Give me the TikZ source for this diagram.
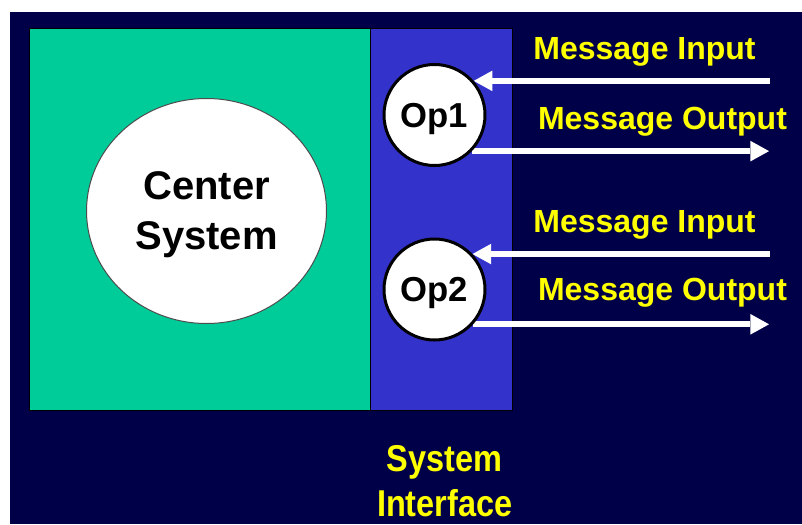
\documentclass[tikz,border=0pt]{standalone}
\usepackage{fontspec}
\setmainfont{Liberation Sans}
\newfontfamily\narrowfont[FakeStretch=0.87]{Liberation Sans}
\usetikzlibrary{shapes.geometric,arrows.meta}
\definecolor{navy}{HTML}{000048}
\definecolor{teal}{HTML}{00CC99}
\definecolor{ifblue}{HTML}{3333CC}
\definecolor{msgyellow}{HTML}{FFFF00}
\pgfdeclarelayer{bg}
\pgfdeclarelayer{mid}
\pgfsetlayers{bg,mid,main}
\tikzset{
  corebox/.style={fill=teal,draw=black,line width=0.75pt},
  ifbox/.style={fill=ifblue,draw=black,line width=0.75pt},
  coresys/.style={ellipse,draw=black!70,line width=0.75pt,fill=white,inner sep=0pt,
    minimum width=180pt,minimum height=168.75pt,align=center,text depth=0pt,
    font=\fontsize{30pt}{37.5pt}\selectfont\bfseries},
  opnode/.style={circle,draw=black,line width=2.25pt,fill=white,inner sep=0pt,
    minimum size=75.75pt,text depth=0pt,font=\fontsize{26pt}{30pt}\selectfont\bfseries},
  msglabel/.style={text=msgyellow,anchor=base,inner sep=0pt,
    font=\fontsize{24pt}{28pt}\selectfont\bfseries},
  iflabel/.style={text=msgyellow,inner sep=0pt,align=center,
    font=\narrowfont\fontsize{28pt}{34pt}\selectfont\bfseries},
  msg/.style={draw=white,line width=4.5pt,
    -{Triangle[length=14pt,width=15.5pt,line width=0pt]}},
}
\begin{document}
\begin{tikzpicture}[x=0.75pt,y=-0.75pt]
\useasboundingbox (0,0) rectangle (802,524);
\begin{pgfonlayer}{bg}
  \fill[white] (0,0) rectangle (802,524);
  \fill[navy] (10,12) rectangle (802,524);
  \draw[corebox] (29,29) rectangle (370,410);
  \draw[ifbox] (370,29) rectangle (512,410);
\end{pgfonlayer}

\node[coresys] (center) at (206.5,211) {Center\\System};
\node[opnode] (op1) at (434.5,115) {Op1};
\node[opnode] (op2) at (434.5,289.5) {Op2};

\node[msglabel] (in1lbl) at (644.5,60) {Message Input};
\node[msglabel] (out1lbl) at (662.5,129.5) {Message Output};
\node[msglabel] (in2lbl) at (644.5,232) {Message Input};
\node[msglabel] (out2lbl) at (662.5,300.5) {Message Output};

\node[iflabel] (iflbl) at (444.7,481.3) {System\\Interface};

\coordinate (in1s) at (op1.41.5 -| 770,0);
\coordinate (out1e) at (op1.-44.7 -| 769,0);
\coordinate (in2s) at (op2.43.9 -| 770,0);
\coordinate (out2e) at (op2.-42 -| 769,0);

\begin{pgfonlayer}{mid}
  \draw[msg] (in1s) -- (op1.41.5);
  \draw[msg] (op1.-44.7) -- (out1e);
  \draw[msg] (in2s) -- (op2.43.9);
  \draw[msg] (op2.-42) -- (out2e);
\end{pgfonlayer}
\end{tikzpicture}
\end{document}
